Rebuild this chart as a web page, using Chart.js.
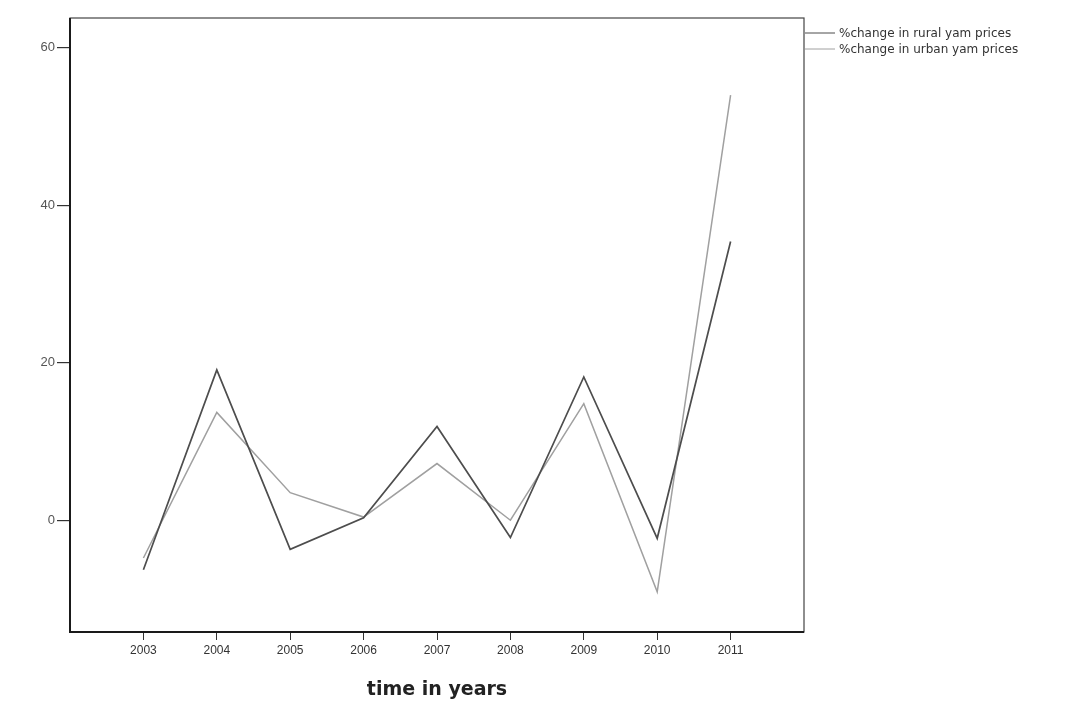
<!DOCTYPE html>
<html lang="en">
<head>
    <meta charset="UTF-8">
    <title>Yam price change</title>
    <script src="https://cdn.jsdelivr.net/npm/chart.js"></script>
    <style>
        html, body { margin: 0; padding: 0; background: #ffffff; }
        #wrap { width: 1068px; height: 705px; }
    </style>
</head>
<body>
    <div id="wrap"><canvas id="yamChart" width="1068" height="705"></canvas></div>

    <script>
        // values
        const years = [2003, 2004, 2005, 2006, 2007, 2008, 2009, 2010, 2011];
        const ruralChange = [-6.3, 19.1, -3.7, 0.3, 11.9, -2.2, 18.2, -2.3, 35.4];
        const urbanChange = [-4.8, 13.7, 3.5, 0.4, 7.2, 0.0, 14.8, -9.1, 54.0];
        const yTicks = [0, 20, 40, 60];
        const seriesNames = ['%change in rural yam prices', '%change in urban yam prices'];
        const seriesColors = ['#4d4d4d', '#a0a0a0'];

        function points(vals) {
            return years.map((yr, i) => ({ x: yr, y: vals[i] }));
        }

        // box round the plot plus the legend outside on the right
        const frameAndLegend = {
            id: 'frameAndLegend',
            afterDraw(chart) {
                const { ctx, chartArea: a } = chart;
                ctx.save();
                ctx.strokeStyle = '#444';
                ctx.lineWidth = 1.2;
                ctx.strokeRect(a.left, a.top, a.right - a.left, a.bottom - a.top);
                // left and bottom axis lines are heavier
                ctx.strokeStyle = '#1a1a1a';
                ctx.lineWidth = 2;
                ctx.beginPath();
                ctx.moveTo(a.left, a.top);
                ctx.lineTo(a.left, a.bottom);
                ctx.lineTo(a.right, a.bottom);
                ctx.stroke();

                ctx.font = '12px "DejaVu Sans", Verdana, sans-serif';
                ctx.textBaseline = 'middle';
                chart.data.datasets.forEach((ds, i) => {
                    const y = 33 + i * 16;
                    ctx.strokeStyle = ds.borderColor;
                    ctx.lineWidth = 1;
                    ctx.beginPath();
                    ctx.moveTo(a.right + 1, y);
                    ctx.lineTo(a.right + 31, y);
                    ctx.stroke();
                    ctx.fillStyle = '#333';
                    ctx.fillText(ds.label, a.right + 35, y + 1);
                });
                ctx.restore();
            }
        };

        new Chart(document.getElementById('yamChart'), {
            type: 'line',
            data: {
                datasets: [
                    { label: seriesNames[0], data: points(ruralChange), borderColor: seriesColors[0], borderWidth: 1.7 },
                    { label: seriesNames[1], data: points(urbanChange), borderColor: seriesColors[1], borderWidth: 1.5 }
                ]
            },
            options: {
                responsive: false,
                animation: false,
                elements: { point: { radius: 0 }, line: { tension: 0 } },
                layout: { padding: { top: 18, right: 264, left: 0, bottom: 0 } },
                plugins: { legend: { display: false }, tooltip: { enabled: false } },
                scales: {
                    x: {
                        type: 'linear',
                        min: 2002,
                        max: 2012,
                        afterBuildTicks: s => { s.ticks = years.map(v => ({ value: v })); },
                        afterFit: s => { s.height = 73; },
                        grid: { drawOnChartArea: false, tickLength: 8, color: '#333', lineWidth: 1 },
                        border: { display: false },
                        ticks: {
                            callback: v => String(v),
                            color: '#333',
                            padding: 3,
                            maxRotation: 0,
                            font: { family: '"Liberation Sans", Arial, sans-serif', size: 12 }
                        },
                        title: {
                            display: true,
                            text: 'time in years',
                            color: '#222',
                            padding: { top: 12 },
                            font: { family: '"DejaVu Sans", Verdana, sans-serif', size: 19, weight: 'bold' }
                        }
                    },
                    y: {
                        min: -14.2,
                        max: 63.8,
                        afterBuildTicks: s => { s.ticks = yTicks.map(v => ({ value: v })); },
                        afterFit: s => { s.width = 70; },
                        grid: { drawOnChartArea: false, tickLength: 13, color: '#333', lineWidth: 1.2 },
                        border: { display: false },
                        ticks: {
                            color: '#555',
                            padding: 2,
                            font: { family: '"Liberation Sans", Arial, sans-serif', size: 13 }
                        }
                    }
                }
            },
            plugins: [frameAndLegend]
        });
    </script>
</body>
</html>
